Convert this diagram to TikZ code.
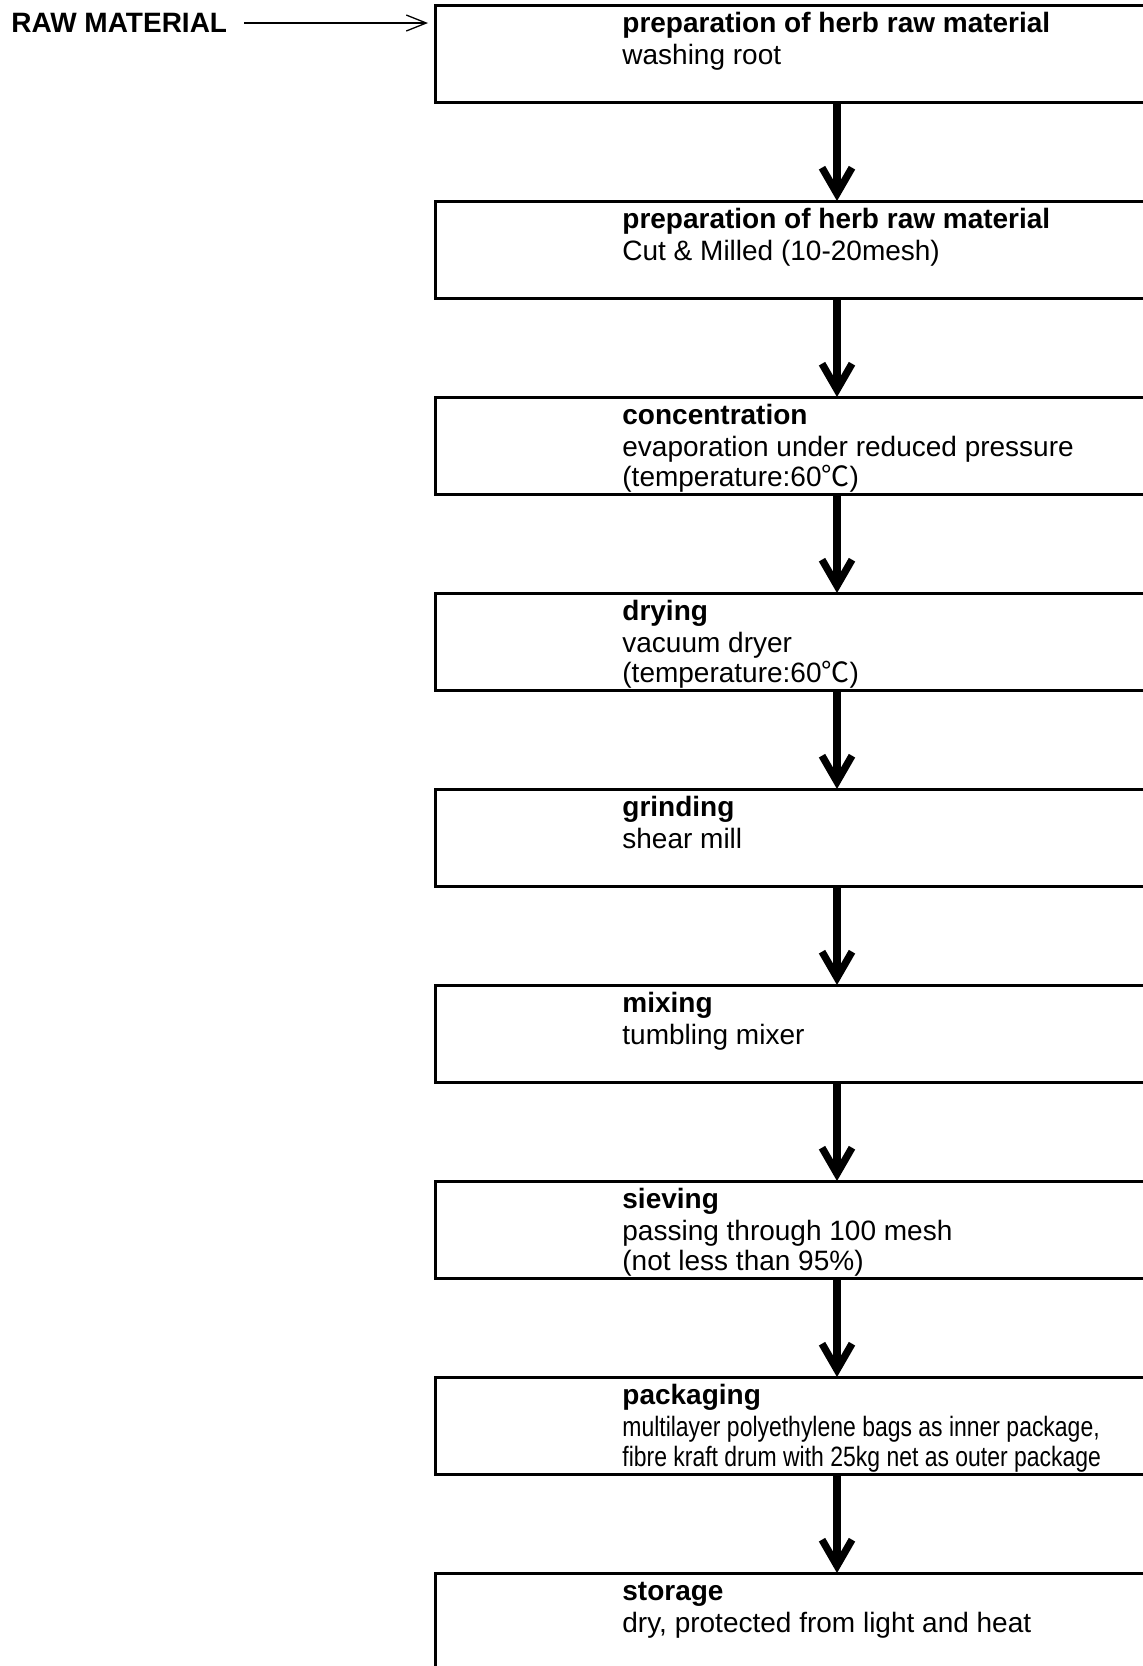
\documentclass[tikz,border=0pt]{standalone}
\usepackage{fontspec}
\setmainfont{Liberation Sans}
\newfontfamily\narrowfont[FakeStretch=0.82]{Liberation Sans}
\newfontfamily\cjkfont{Noto Sans CJK SC}
\usetikzlibrary{arrows.meta}
\newcommand{\degC}{{\cjkfont ℃}}
\tikzset{
BOX/.style ={draw=black,line width=1.5pt,anchor=north west,inner sep=0pt,outer sep=0pt,minimum width=402pt,minimum height=48.75pt},
FLOW/.style ={draw=black,line width=3.65pt,-{Straight Barb[length=13pt,width=15pt]}},
FEED/.style ={draw=black,line width=0.65pt,-{Straight Barb[length=10pt,width=8pt]}},
TITLE/.style={anchor=base west,inner sep=0pt,xshift=93.5pt,yshift=-13.5pt,font=\fontsize{14pt}{15.25pt}\selectfont\bfseries},
BODY/.style={anchor=base west,inner sep=0pt,xshift=93.5pt,yshift=-#1,align=left,font=\fontsize{14pt}{15.25pt}\selectfont},
BODY/.default = 29.5pt,
}
\begin{document}
\begin{tikzpicture} %process flow
[x=0.5pt, y=-0.5pt]
	\path[use as bounding box, clip] (0,0) rectangle (1143,1666);
	\node[anchor=west, inner sep=0pt, font=\fontsize{14pt}{15pt}\selectfont\bfseries] (raw) at (11,23) {RAW MATERIAL};
	\node[BOX] (s1) at (435,5) {};
	\node[BOX] (s2) at (435,201) {};
	\node[BOX] (s3) at (435,397) {};
	\node[BOX] (s4) at (435,593) {};
	\node[BOX] (s5) at (435,789) {};
	\node[BOX] (s6) at (435,985) {};
	\node[BOX] (s7) at (435,1181) {};
	\node[BOX] (s8) at (435,1377) {};
	\node[BOX] (s9) at (435,1573) {};
	\node[TITLE] (t1) at (s1.north west) {preparation of herb raw material};
	\node[BODY] (b1) at (s1.north west) {washing root};
	\node[TITLE] (t2) at (s2.north west) {preparation of herb raw material};
	\node[BODY] (b2) at (s2.north west) {Cut \& Milled (10-20mesh)};
	\node[TITLE] (t3) at (s3.north west) {concentration};
	\node[BODY=44.75pt] (b3) at (s3.north west) {evaporation under reduced pressure\\(temperature:60\degC)};
	\node[TITLE] (t4) at (s4.north west) {drying};
	\node[BODY=44.75pt] (b4) at (s4.north west) {vacuum dryer\\(temperature:60\degC)};
	\node[TITLE] (t5) at (s5.north west) {grinding};
	\node[BODY] (b5) at (s5.north west) {shear mill};
	\node[TITLE] (t6) at (s6.north west) {mixing};
	\node[BODY] (b6) at (s6.north west) {tumbling mixer};
	\node[TITLE] (t7) at (s7.north west) {sieving};
	\node[BODY=44.75pt] (b7) at (s7.north west) {passing through 100 mesh\\(not less than 95\%)};
	\node[TITLE] (t8) at (s8.north west) {packaging};
	\node[BODY=44.75pt] (b8) at (s8.north west) {\narrowfont multilayer polyethylene bags as inner package,\\\narrowfont fibre kraft drum with 25kg net as outer package};
	\node[TITLE] (t9) at (s9.north west) {storage};
	\node[BODY] (b9) at (s9.north west) {dry, protected from light and heat};
	\path[FEED, shorten <=8.5pt, shorten >=3.5pt] (raw.east) -- (raw.east -| s1.west);
	\path[FLOW] (s1.south) -- (s2.north);
	\path[FLOW] (s2.south) -- (s3.north);
	\path[FLOW] (s3.south) -- (s4.north);
	\path[FLOW] (s4.south) -- (s5.north);
	\path[FLOW] (s5.south) -- (s6.north);
	\path[FLOW] (s6.south) -- (s7.north);
	\path[FLOW] (s7.south) -- (s8.north);
	\path[FLOW] (s8.south) -- (s9.north);
\end{tikzpicture}
\end{document}
